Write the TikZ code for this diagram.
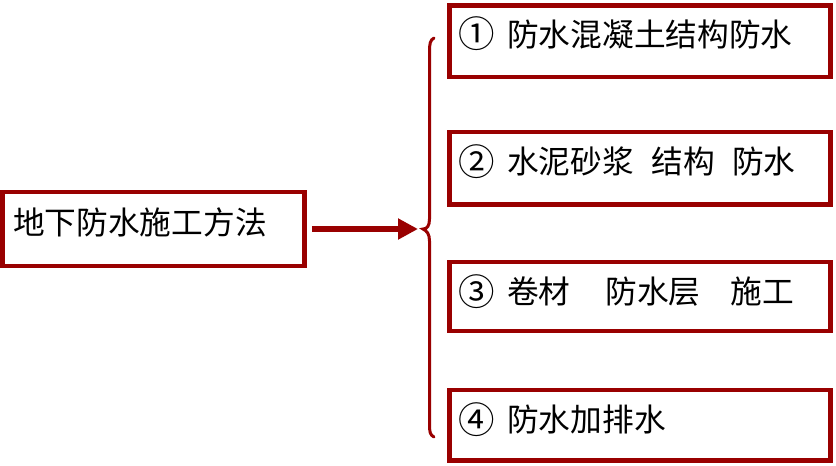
\documentclass[tikz,border=0pt]{standalone}
\usepackage{fontspec}
\newfontfamily\cjk{Noto Sans CJK SC}
\usetikzlibrary{arrows.meta}
\definecolor{dred}{RGB}{153,0,0}
\newcommand{\circnum}[1]{\makebox[49pt][l]{\raisebox{-1.5pt}{\scalebox{1.15}{#1}}}}
\tikzset{
  box/.style={draw=dred, line width=4.5pt, rectangle, inner sep=0pt},
  lbl/.style={anchor=base west, inner sep=0pt, font=\cjk\fontsize{31.7pt}{36pt}\selectfont, text=black},
  conn/.style={draw=dred, line width=5.5pt, -{Triangle[length=20pt,width=20pt]}},
  brc/.style={draw=dred, line width=3pt, line cap=round}
}
\begin{document}
\begin{tikzpicture}[x=1pt,y=-1pt]
\useasboundingbox (0,0) rectangle (836,466);
% left box
\node[box, minimum width=302pt, minimum height=74pt] (L) at (153.5,229) {};
\node[lbl] (Lt) at (13,234.5) {地下防水施工方法};
% right boxes
\node[box, minimum width=381pt, minimum height=71.5pt] (B1) at (640,41.25) {};
\node[box, minimum width=381pt, minimum height=72.5pt] (B2) at (640,168.25) {};
\node[box, minimum width=381pt, minimum height=69pt] (B3) at (640,296.5) {};
\node[box, minimum width=381pt, minimum height=70.5pt] (B4) at (640,425.25) {};
\node[lbl] (T1) at (458,46) {\circnum{①}防水混凝土结构防水};
\node[lbl] (T2) at (458,173.5) {\circnum{②}水泥砂浆\hspace{0.55em}结构\hspace{0.55em}防水};
\node[lbl] (T3) at (458,303.5) {\circnum{③}卷材\hspace{1.1em}防水层\hspace{0.95em}施工};
\node[lbl] (T4) at (458,431.5) {\circnum{④}防水加排水};
% brace
\coordinate (tip) at (423,229);
\draw[brc] (434,38) .. controls (430,40) and (429.5,44) .. (429.5,52) -- (429.5,219)
  .. controls (429.5,226) and (427,229) .. (tip)
  .. controls (427,231) and (429.5,234) .. (429.5,241) -- (429.5,424)
  .. controls (429.5,432) and (430,435) .. (434,437);
% arrow
\draw[conn, shorten <=5pt, shorten >=5pt] (L.east) -- (tip);
\end{tikzpicture}
\end{document}
